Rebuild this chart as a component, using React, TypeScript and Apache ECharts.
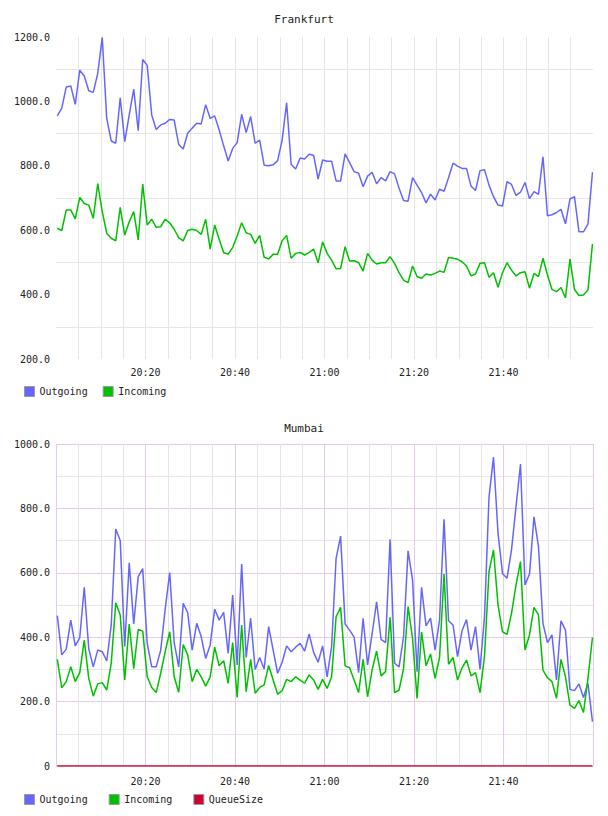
import React, { useEffect, useRef } from "react";
import * as echarts from "echarts";

// Samples: one per ~minute, first one at 20:00:17 (minutes after midnight)
const FIRST_SAMPLE = 20 * 60 + 17 / 60;
const SAMPLE_STEP = 60.3 / 60;

const frankfurtOutgoing = [
  955, 979, 1045, 1048, 991, 1097, 1079, 1033, 1028, 1087,
  1198, 947, 877, 870, 1011, 875, 958, 1038, 909, 1130,
  1112, 958, 913, 927, 932, 944, 942, 866, 852, 901,
  917, 932, 930, 990, 947, 955, 911, 862, 815, 854,
  872, 960, 903, 953, 870, 880, 802, 800, 803, 816,
  880, 996, 805, 790, 824, 821, 836, 833, 759, 818,
  814, 814, 753, 753, 837, 810, 782, 777, 735, 768,
  780, 744, 763, 753, 782, 775, 730, 692, 690, 763,
  740, 717, 685, 712, 694, 727, 721, 763, 808, 799,
  792, 792, 737, 723, 785, 788, 740, 704, 678, 675,
  751, 742, 708, 718, 748, 698, 720, 711, 828, 645,
  648, 655, 665, 620, 697, 704, 595, 595, 619, 780,
];

const frankfurtIncoming = [
  606, 599, 663, 663, 635, 702, 683, 678, 637, 745,
  658, 590, 575, 567, 671, 585, 626, 658, 570, 743,
  616, 634, 609, 611, 634, 623, 603, 577, 567, 599,
  603, 599, 587, 634, 541, 616, 572, 530, 526, 546,
  582, 623, 592, 587, 559, 584, 516, 511, 525, 525,
  567, 584, 513, 528, 531, 523, 531, 541, 499, 564,
  528, 507, 480, 481, 549, 504, 505, 499, 473, 528,
  507, 495, 499, 499, 518, 497, 468, 445, 437, 489,
  456, 451, 464, 461, 466, 473, 469, 515, 513, 510,
  502, 489, 458, 464, 497, 499, 454, 468, 423, 468,
  499, 476, 458, 468, 471, 420, 466, 456, 513, 461,
  416, 409, 422, 390, 510, 416, 397, 399, 414, 557,
];

const mumbaiOutgoing = [
  467, 345, 363, 453, 373, 399, 555, 364, 308, 360,
  355, 326, 438, 736, 700, 371, 631, 441, 588, 613,
  381, 308, 308, 360, 487, 601, 383, 308, 505, 476,
  360, 443, 402, 334, 376, 487, 453, 477, 350, 531,
  314, 627, 337, 459, 300, 337, 301, 433, 360, 288,
  322, 373, 355, 369, 381, 357, 410, 353, 322, 373,
  277, 371, 645, 714, 441, 422, 400, 290, 459, 314,
  410, 510, 393, 383, 704, 319, 308, 402, 668, 578,
  293, 555, 435, 459, 360, 453, 766, 451, 438, 340,
  420, 455, 360, 433, 300, 464, 836, 959, 723, 598,
  583, 671, 805, 938, 562, 596, 774, 681, 443, 383,
  407, 267, 451, 422, 238, 234, 255, 213, 257, 138,
];

const mumbaiIncoming = [
  331, 243, 262, 308, 262, 290, 391, 272, 217, 255,
  259, 236, 319, 507, 469, 267, 441, 302, 424, 419,
  277, 244, 228, 288, 355, 417, 277, 229, 377, 345,
  262, 300, 277, 248, 277, 369, 311, 327, 257, 383,
  213, 438, 231, 331, 226, 244, 252, 312, 267, 223,
  234, 269, 262, 277, 267, 257, 283, 267, 238, 269,
  241, 277, 464, 493, 311, 305, 267, 228, 331, 215,
  298, 357, 280, 293, 462, 228, 236, 303, 495, 396,
  210, 417, 311, 348, 272, 337, 596, 316, 337, 267,
  305, 329, 280, 290, 228, 342, 604, 671, 500, 417,
  409, 474, 562, 635, 360, 407, 493, 469, 298, 274,
  262, 210, 331, 277, 189, 179, 203, 166, 272, 399,
];

const mumbaiQueueSize = [
  0, 0, 0, 0, 0, 0, 0, 0, 0, 0, 0, 0, 0, 0, 0, 0, 0, 0, 0, 0,
  0, 0, 0, 0, 0, 0, 0, 0, 0, 0, 0, 0, 0, 0, 0, 0, 0, 0, 0, 0,
  0, 0, 0, 0, 0, 0, 0, 0, 0, 0, 0, 0, 0, 0, 0, 0, 0, 0, 0, 0,
  0, 0, 0, 0, 0, 0, 0, 0, 0, 0, 0, 0, 0, 0, 0, 0, 0, 0, 0, 0,
  0, 0, 0, 0, 0, 0, 0, 0, 0, 0, 0, 0, 0, 0, 0, 0, 0, 0, 0, 0,
  0, 0, 0, 0, 0, 0, 0, 0, 0, 0, 0, 0, 0, 0, 0, 0, 0, 0, 0, 0,
];

const chartTitles = ["Frankfurt", "Mumbai"];
const frankfurtLegend = ["Outgoing", "Incoming"];
const mumbaiLegend = ["Outgoing", "Incoming", "QueueSize"];

const TIME_MIN = 20 * 60; // 20:00
const TIME_MAX = 22 * 60; // 22:00
const TIME_TICK = 5;
const TIME_LABEL_EVERY = 20;

const COLORS: Record<string, string> = {
  Outgoing: "#6666ff",
  Incoming: "#00c000",
  QueueSize: "#cc0033",
};

const FONT = "DejaVu Sans Mono";
const TEXT = "#222";
const GREY = "#e6e6e6";
const PINK = "#e2cce8";
const NONE = "rgba(0,0,0,0)";

const toPairs = (values: number[]) =>
  values.map((v, i) => [FIRST_SAMPLE + i * SAMPLE_STEP, v]);

const clock = (m: number) => {
  const h = Math.floor(m / 60);
  const mm = Math.round(m % 60);
  return `${h}:${mm < 10 ? "0" + mm : mm}`;
};

const timeLabel = (v: number) =>
  v % TIME_LABEL_EVERY === 0 && v !== TIME_MIN && v !== TIME_MAX ? clock(v) : "";

const tickCount = (TIME_MAX - TIME_MIN) / TIME_TICK + 1;
const frankfurtVertical = Array.from({ length: tickCount }, (_, i) =>
  i === 0 || i === tickCount - 1 ? NONE : GREY
);
const mumbaiVertical = Array.from({ length: tickCount }, (_, i) =>
  i % 4 === 0 ? PINK : GREY
);

const lineSeries = (
  name: string,
  values: number[],
  axisIndex: number,
  z = 2
) => ({
  name,
  type: "line",
  xAxisIndex: axisIndex,
  yAxisIndex: axisIndex,
  data: toPairs(values),
  showSymbol: false,
  symbol: "none",
  z,
  lineStyle: { color: COLORS[name], width: 1.5 },
  itemStyle: { color: COLORS[name] },
});

const labelStyle = { fontFamily: FONT, fontSize: 10, color: TEXT };

const timeAxis = (gridIndex: number, colors: string[], margin: number) => ({
  type: "value",
  gridIndex,
  min: TIME_MIN,
  max: TIME_MAX,
  interval: TIME_TICK,
  axisLine: { show: false },
  axisTick: { show: false },
  axisLabel: { ...labelStyle, margin, formatter: timeLabel, showMinLabel: true, showMaxLabel: true },
  splitLine: { show: true, lineStyle: { color: colors, width: 1 } },
});

export default function App() {
  const ref = useRef<HTMLDivElement>(null);

  useEffect(() => {
    if (!ref.current) return;
    const chart = echarts.init(ref.current, undefined, { renderer: "svg" });

    chart.setOption({
      animation: false,
      backgroundColor: "#ffffff",
      title: [
        {
          text: chartTitles[0],
          left: "center",
          top: 14,
          padding: 0,
          textStyle: { fontFamily: FONT, fontSize: 11, fontWeight: "normal", color: TEXT },
        },
        {
          text: chartTitles[1],
          left: "center",
          top: 423,
          padding: 0,
          textStyle: { fontFamily: FONT, fontSize: 11, fontWeight: "normal", color: TEXT },
        },
      ],
      legend: [
        {
          data: frankfurtLegend,
          left: 24,
          top: 386,
          padding: 0,
          icon: "rect",
          itemWidth: 10,
          itemHeight: 10,
          itemGap: 15,
          itemStyle: { borderColor: "#999", borderWidth: 1 },
          textStyle: labelStyle,
          selectedMode: false,
        },
        {
          data: mumbaiLegend,
          left: 24,
          top: 794,
          padding: 0,
          icon: "rect",
          itemWidth: 10,
          itemHeight: 10,
          itemGap: 21,
          itemStyle: { borderColor: "#999", borderWidth: 1 },
          textStyle: labelStyle,
          selectedMode: false,
        },
      ],
      grid: [
        { left: 56, right: 15, top: 37, height: 322 },
        { left: 56, right: 15, top: 444, height: 322 },
      ],
      xAxis: [timeAxis(0, frankfurtVertical, 8), timeAxis(1, mumbaiVertical, 10)],
      yAxis: [
        {
          type: "value",
          gridIndex: 0,
          min: 200,
          max: 1200,
          interval: 100,
          axisLine: { show: false },
          axisTick: { show: false },
          axisLabel: {
            ...labelStyle,
            margin: 6,
            formatter: (v: number) => (v % 200 === 0 ? v.toFixed(1) : ""),
          },
          splitLine: { show: true, lineStyle: { color: [NONE, GREY], width: 1 } },
        },
        {
          type: "value",
          gridIndex: 1,
          min: 0,
          max: 1000,
          interval: 100,
          axisLine: { show: false },
          axisTick: { show: false },
          axisLabel: {
            ...labelStyle,
            margin: 6,
            formatter: (v: number) =>
              v === 0 ? "0" : v % 200 === 0 ? v.toFixed(1) : "",
          },
          splitLine: { show: true, lineStyle: { color: [PINK, GREY], width: 1 } },
        },
      ],
      series: [
        lineSeries("Outgoing", frankfurtOutgoing, 0),
        lineSeries("Incoming", frankfurtIncoming, 0),
        lineSeries("Outgoing", mumbaiOutgoing, 1),
        lineSeries("Incoming", mumbaiIncoming, 1),
        lineSeries("QueueSize", mumbaiQueueSize, 1, 3),
      ],
    });

    return () => chart.dispose();
  }, []);

  return (
    <div
      ref={ref}
      style={{ position: "fixed", left: 0, top: 0, width: 608, height: 816 }}
    />
  );
}
